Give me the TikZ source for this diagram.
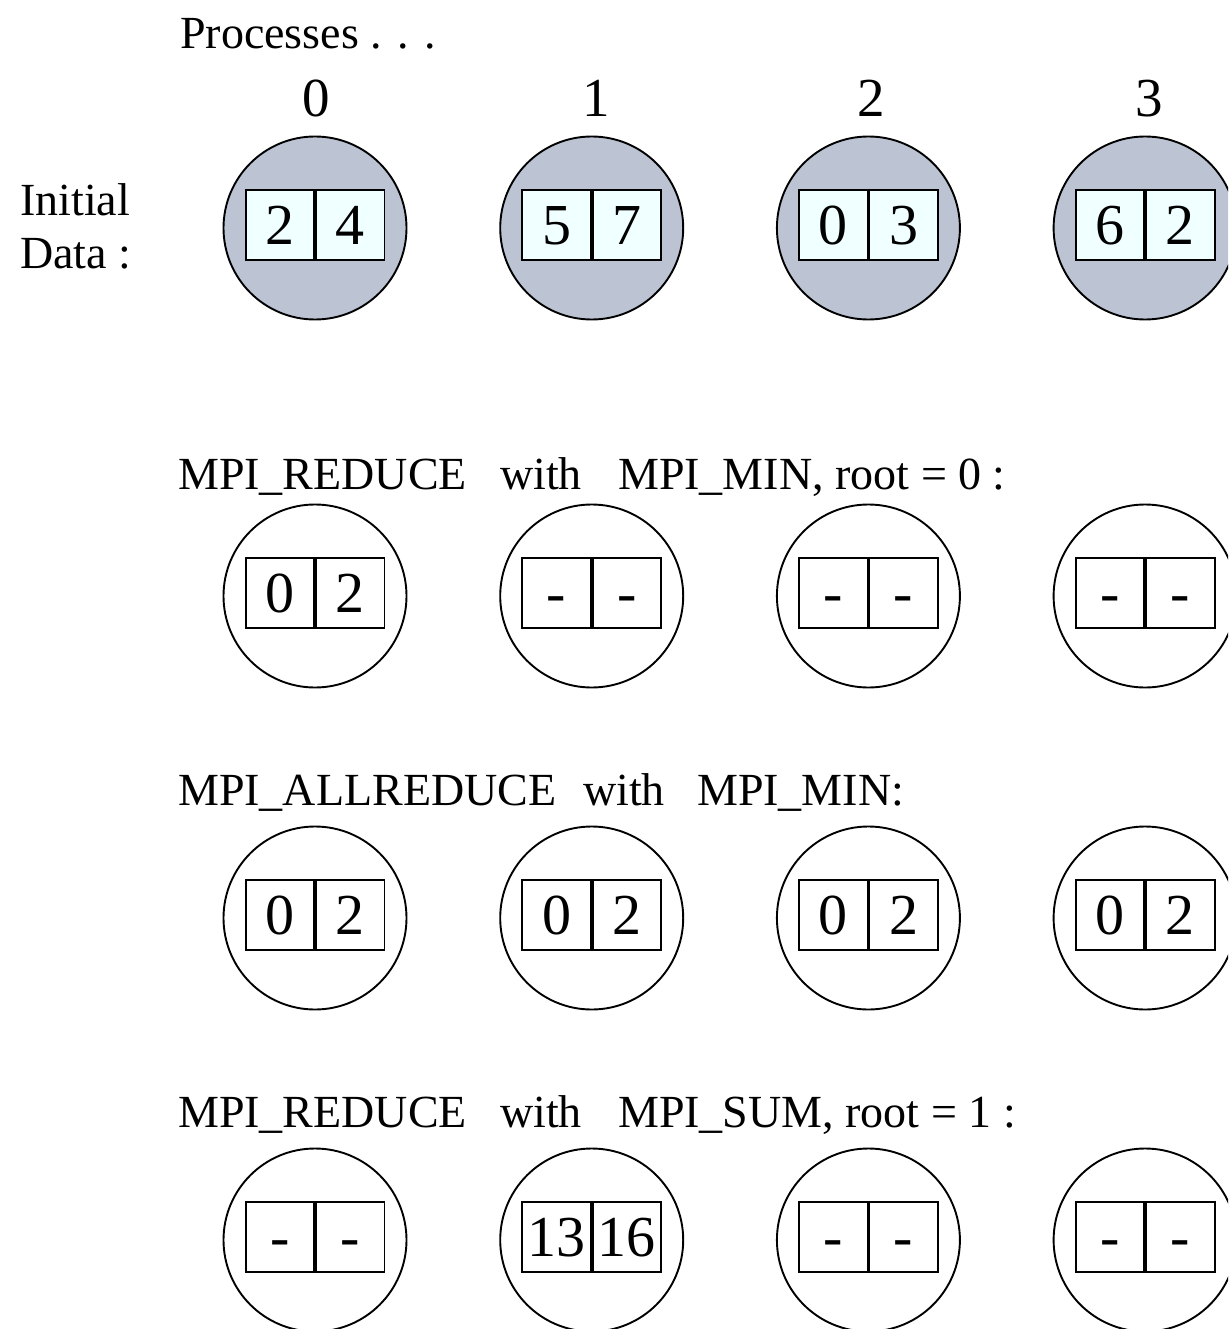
\documentclass[tikz,border=0pt]{standalone}
\usepackage{fontspec}
\setmainfont{Liberation Serif}
\usetikzlibrary{calc}
\definecolor{procfill}{HTML}{BCC4D4}
\definecolor{cellfill}{HTML}{F0FFFF}
\newcommand{\cellval}[1]{\vphantom{0}\ifx-#1\raisebox{0.11em}{-}\else#1\fi}
\begin{document}
\begin{tikzpicture}[x=1pt,y=-1pt,
  pcirc/.style={circle,draw=black,line width=1.9pt,minimum size=183pt,inner sep=0pt},
  cell/.style={rectangle,draw=black,line width=1.9pt,minimum width=68.5pt,minimum height=70pt,inner sep=0pt,font=\fontsize{58}{58}\selectfont},
  title/.style={anchor=base west,inner sep=0pt,font=\fontsize{46}{46}\selectfont},
  plabel/.style={anchor=base,inner sep=0pt,font=\fontsize{55}{55}\selectfont}]
\useasboundingbox (0,0) rectangle (1228,1329);
\clip (0,0) rectangle (1228,1329);

% headings
\node[title] (hproc) at (180,49) {Processes . . .};
\node[title] (hinit) at (20,216) {Initial};
\node[title] (hdata) at (20,269) {Data :};
\foreach \i/\x in {0/316,1/596,2/871,3/1149}
  \node[plabel] (pl\i) at (\x,117) {\i};

\node[title] (t2a) at (178,489) {MPI\_REDUCE};
\node[title] (t2b) at (500,489) {with};
\node[title] (t2c) at (618,489) {MPI\_MIN, root = 0 :};

\node[title] (t3a) at (178,805) {MPI\_ALLREDUCE};
\node[title] (t3b) at (583,805) {with};
\node[title] (t3c) at (697,805) {MPI\_MIN:};

\node[title] (t4a) at (178,1127) {MPI\_REDUCE};
\node[title] (t4b) at (500,1127) {with};
\node[title] (t4c) at (618,1127) {MPI\_SUM, root = 1 :};

% process circles with two-cell buffers
\foreach \r/\y/\cf/\bf/\vals in {
   a/228/procfill/cellfill/{2/4,5/7,0/3,6/2},
   b/596/white/white/{0/2,-/-,-/-,-/-},
   c/918/white/white/{0/2,0/2,0/2,0/2},
   d/1240/white/white/{-/-,13/16,-/-,-/-}}{
  \foreach \v [count=\k from 0] in \vals {
    \pgfmathsetmacro{\cx}{315+276.7*\k}
    \node[pcirc,fill=\cf] (c\r\k) at (\cx,\y) {};
  }
  \foreach \p/\q [count=\k from 0] in \vals {
    \pgfmathsetmacro{\cx}{315+276.7*\k}
    \node[cell,fill=\bf,anchor=east] (l\r\k) at (\cx,\y-3) {\cellval{\p}};
    \node[cell,fill=\bf,anchor=west] (r\r\k) at (\cx,\y-3) {\cellval{\q}};
  }
}
\end{tikzpicture}
\end{document}
